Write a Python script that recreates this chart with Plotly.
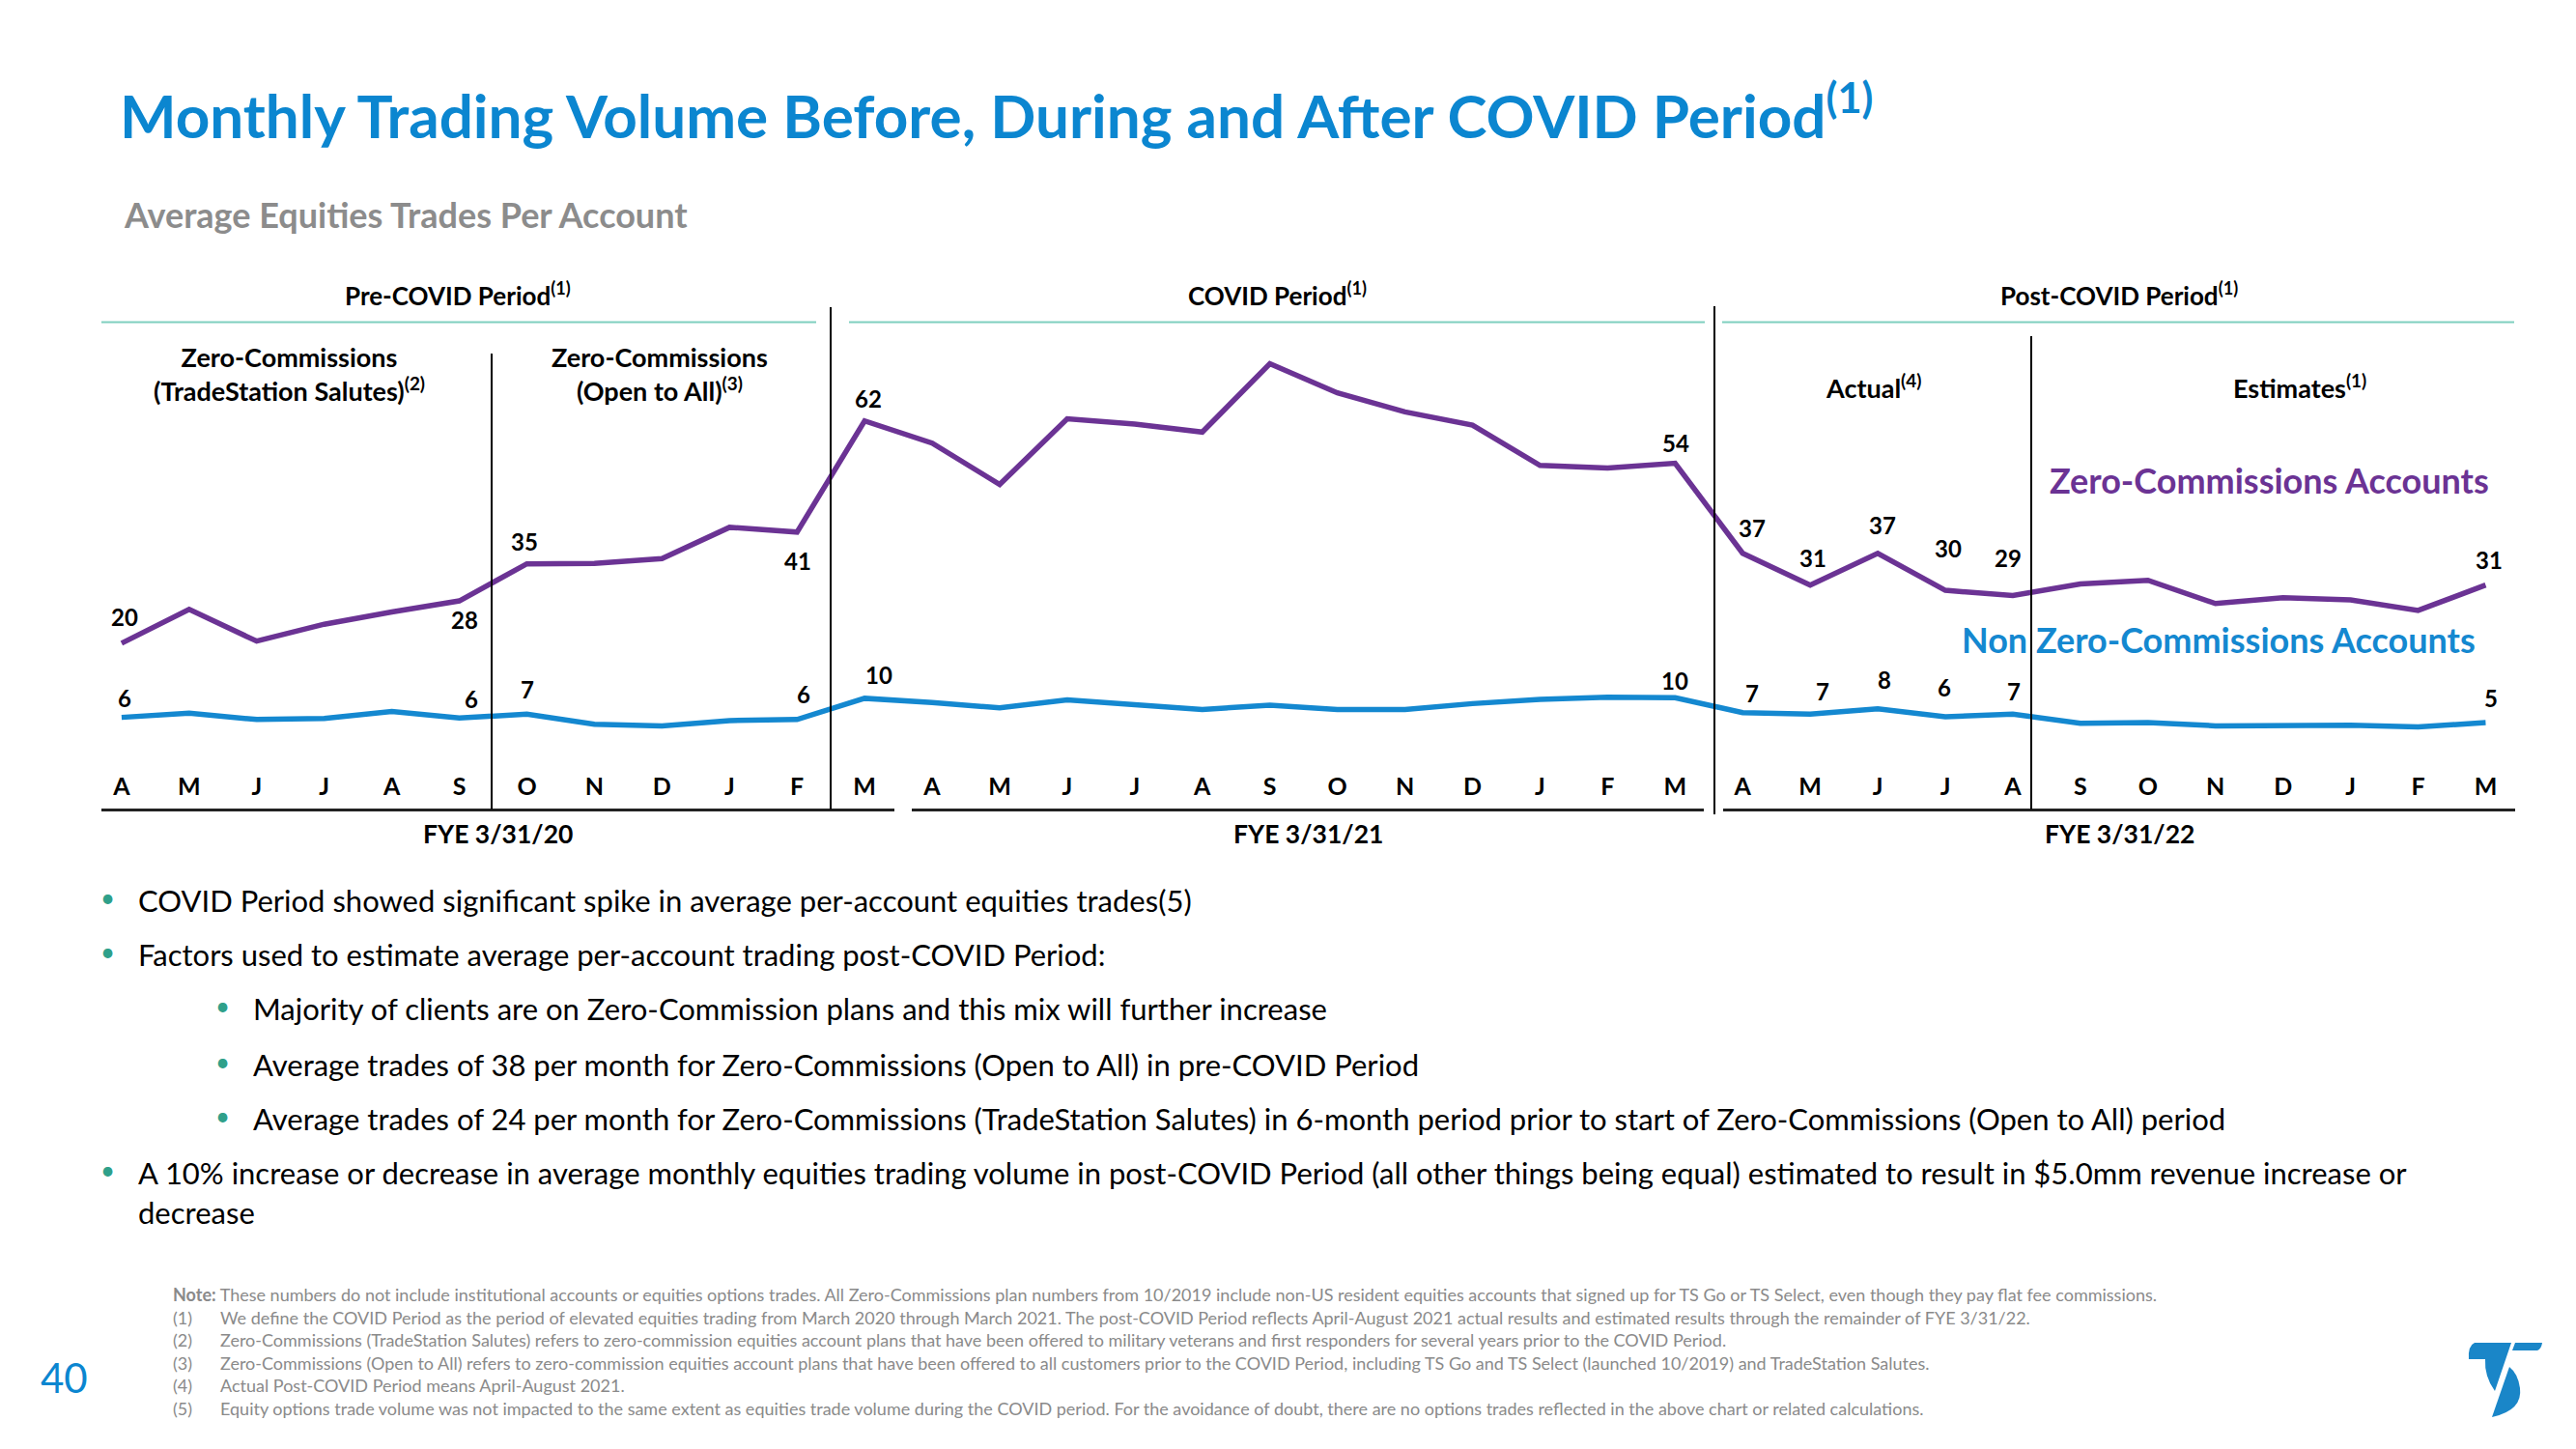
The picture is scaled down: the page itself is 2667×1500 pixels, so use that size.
import plotly.graph_objects as go

W, H = 2667, 1500
FONT = "Lato"

# ---------------- data ----------------
MONTHS = ["A", "M", "J", "J", "A", "S", "O", "N", "D", "J", "F", "M"] * 3
ZERO_COMM = [20, 26.4, 20.4, 23.6, 25.9, 28, 35, 35.1, 36.0, 41.9, 41,
             62, 57.8, 50.0, 62.4, 61.4, 59.9, 72.8, 67.3, 63.7, 61.2, 53.6, 53.1, 54,
             37, 31, 37, 30, 29, 31.2, 31.9, 27.5, 28.6, 28.2, 26.2, 31]
NON_ZERO = [6.0, 6.8, 5.6, 5.8, 7.1, 5.9, 6.6, 4.7, 4.4, 5.4, 5.6,
            9.6, 8.8, 7.8, 9.3, 8.4, 7.5, 8.3, 7.5, 7.5, 8.6, 9.4, 9.8, 9.7,
            6.9, 6.6, 7.6, 6.1, 6.6, 4.9, 5.0, 4.4, 4.5, 4.5, 4.2, 5.0]
LABELED_IDX = [0, 5, 6, 10, 11, 23, 24, 25, 26, 27, 28, 35]
FISCAL_YEARS = ["FYE 3/31/20", "FYE 3/31/21", "FYE 3/31/22"]
SERIES_NAMES = ["Zero-Commissions Accounts", "Non Zero-Commissions Accounts"]

PURPLE = "#6B3394"
BLUE = "#1488D0"
TITLE_BLUE = "#0B86D0"
TEAL = "#7FCFBF"
BULLET_TEAL = "#2FA08A"
GRAY = "#8C8C8C"
NOTE_GRAY = "#8A8A8A"

# label offsets (pixels) relative to points: dx, dy (dy positive = down)
ZERO_OFF = {0: (3, -27), 5: (5, 19), 6: (-2, -23), 10: (1, 30), 11: (4, -23), 23: (1, -21),
            24: (10, -26), 25: (3, -28), 26: (5, -29), 27: (3, -44), 28: (-5, -39), 35: (4, -26)}
NON_OFF = {0: (3, -20), 5: (12, -20), 6: (1, -26), 10: (7, -26), 11: (15, -24), 23: (0, -18),
           24: (10, -20), 25: (13, -24), 26: (7, -30), 27: (-1, -31), 28: (1, -24), 35: (6, -26)}


def px(x):
    return x / W


def py(y):
    return 1 - y / H


# axis geometry
X0, DX = 125.9, 69.93          # pixel of month 0, pixels per month
Y0, DY = 775.5, 5.48           # pixel of value 0, pixels per unit
XR = [-1, 36]
YR = [-4, 80]
xdom = [px(X0 + XR[0] * DX), px(X0 + XR[1] * DX)]
ydom = [py(Y0 - YR[0] * DY), py(Y0 - YR[1] * DY)]

fig = go.Figure()
idx = list(range(len(MONTHS)))
fig.add_trace(go.Scatter(x=idx, y=ZERO_COMM, mode="lines",
                         line=dict(color=PURPLE, width=5.5), hoverinfo="skip"))
fig.add_trace(go.Scatter(x=idx, y=NON_ZERO, mode="lines",
                         line=dict(color=BLUE, width=5.5), hoverinfo="skip"))

ann = []


def text(x, y, t, size, color="black", bold=False, xa="center", ya="middle"):
    if bold:
        t = "<b>" + t + "</b>"
    ann.append(dict(x=px(x), y=py(y), xref="paper", yref="paper", text=t, showarrow=False,
                    xanchor=xa, yanchor=ya, font=dict(family=FONT, size=size, color=color)))


# data labels
for i in LABELED_IDX:
    for series, offs in ((ZERO_COMM, ZERO_OFF), (NON_ZERO, NON_OFF)):
        dx, dy = offs[i]
        ann.append(dict(x=i, y=series[i], xref="x", yref="y", text="<b>%d</b>" % round(series[i]),
                        showarrow=False, xshift=dx, yshift=-dy,
                        font=dict(family=FONT, size=24, color="black")))

# title / subtitle
text(122, 115, "Monthly Trading Volume Before, During and After COVID Period<sup>(1)</sup>", 62,
     TITLE_BLUE, True, "left")
text(126, 222, "Average Equities Trades Per Account", 36, GRAY, True, "left")

# period headers
text(474, 304, "Pre-COVID Period<sup>(1)</sup>", 26, bold=True)
text(1322, 304, "COVID Period<sup>(1)</sup>", 26, bold=True)
text(2194, 304, "Post-COVID Period<sup>(1)</sup>", 26, bold=True)
text(299, 387, "Zero-Commissions<br>(TradeStation Salutes)<sup>(2)</sup>", 27, bold=True)
text(683, 387, "Zero-Commissions<br>(Open to All)<sup>(3)</sup>", 27, bold=True)
text(1939, 400, "Actual<sup>(4)</sup>", 27, bold=True)
text(2381, 400, "Estimates<sup>(1)</sup>", 27, bold=True)

# series names
text(2579, 497, SERIES_NAMES[0], 36, PURPLE, True, "right")
text(2565, 662, SERIES_NAMES[1], 36, BLUE, True, "right")

# fiscal years
for xc, fy in zip([515, 1354, 2194], FISCAL_YEARS):
    text(xc, 863, fy, 26.5, bold=True)

# bullets
bullets = [
    (102, 141, 932, "COVID Period showed significant spike in average per-account equities trades(5)"),
    (102, 141, 988, "Factors used to estimate average per-account trading post-COVID Period:"),
    (221, 260, 1044, "Majority of clients are on Zero-Commission plans and this mix will further increase"),
    (221, 260, 1102, "Average trades of 38 per month for Zero-Commissions (Open to All) in pre-COVID Period"),
    (221, 260, 1158, "Average trades of 24 per month for Zero-Commissions (TradeStation Salutes) in 6-month period prior to start of Zero-Commissions (Open to All) period"),
    (102, 141, 1214, "A 10% increase or decrease in average monthly equities trading volume in post-COVID Period (all other things being equal) estimated to result in $5.0mm revenue increase or"),
]
for bx, tx, y, t in bullets:
    text(bx, y - 3, "•", 26, BULLET_TEAL, False, "left")
    text(tx, y, t, 31, "black", False, "left")
text(141, 1255, "decrease", 31, "black", False, "left")

# footnotes
notes = [
    ("<b>Note:</b> These numbers do not include institutional accounts or equities options trades. All Zero-Commissions plan numbers from 10/2019 include non-US resident equities accounts that signed up for TS Go or TS Select, even though they pay flat fee commissions.", None),
    ("We define the COVID Period as the period of elevated equities trading from March 2020 through March 2021. The post-COVID Period reflects April-August 2021 actual results and estimated results through the remainder of FYE 3/31/22.", "(1)"),
    ("Zero-Commissions (TradeStation Salutes) refers to zero-commission equities account plans that have been offered to military veterans and first responders for several years prior to the COVID Period.", "(2)"),
    ("Zero-Commissions (Open to All) refers to zero-commission equities account plans that have been offered to all customers prior to the COVID Period, including TS Go and TS Select (launched 10/2019) and TradeStation Salutes.", "(3)"),
    ("Actual Post-COVID Period means April-August 2021.", "(4)"),
    ("Equity options trade volume was not impacted to the same extent as equities trade volume during the COVID period. For the avoidance of doubt, there are no options trades reflected in the above chart or related calculations.", "(5)"),
]
for k, (t, num) in enumerate(notes):
    y = [1340, 1364, 1387, 1411, 1434, 1458][k]
    if num is None:
        text(177, y, t, 18, NOTE_GRAY, False, "left")
    else:
        text(177, y, num, 18, NOTE_GRAY, False, "left")
        text(226, y, t, 18, NOTE_GRAY, False, "left")

# page number
text(66, 1426, "40", 42, TITLE_BLUE, False)

# ---------------- shapes ----------------
shapes = []


def hline(x0, x1, y, color, w):
    shapes.append(dict(type="line", xref="paper", yref="paper", x0=px(x0), x1=px(x1),
                       y0=py(y), y1=py(y), line=dict(color=color, width=w)))


def vline(x, y0, y1, color="black", w=2):
    shapes.append(dict(type="line", xref="paper", yref="paper", x0=px(x), x1=px(x),
                       y0=py(y0), y1=py(y1), line=dict(color=color, width=w)))


for a, b in [(105, 845), (879, 1765), (1783, 2603)]:
    hline(a, b, 333.5, TEAL, 2)
for a, b in [(105, 926), (944, 1764), (1784, 2604)]:
    hline(a, b, 838.5, "#222222", 3)
vline(509, 366, 838)
vline(860, 318, 838)
vline(1775, 317, 843)
vline(2103, 348, 838)


def path(cmds):
    out = []
    for c, pts in cmds:
        s = c
        s += " ".join("%.5f,%.5f" % (px(x), py(y)) for x, y in pts)
        out.append(s)
    return " ".join(out) + " Z"


LOGO = "#1A86C8"
logo_parts = [
    [("M", [(2562, 1390)]), ("L", [(2600, 1390)]), ("L", [(2583, 1440)]),
     ("Q", [(2572, 1425), (2573, 1407)]), ("L", [(2556, 1407)]), ("Q", [(2555, 1393), (2562, 1390)])],
    [("M", [(2604, 1390)]), ("L", [(2632, 1390)]), ("Q", [(2631, 1397), (2627, 1398)]),
     ("L", [(2601, 1398)])],
    [("M", [(2598, 1415)]), ("L", [(2580, 1467)]), ("Q", [(2612, 1460), (2609, 1437)]),
     ("Q", [(2607, 1422), (2598, 1415)])],
]
for part in logo_parts:
    shapes.append(dict(type="path", xref="paper", yref="paper", path=path(part),
                       fillcolor=LOGO, line=dict(width=0)))

fig.update_layout(
    width=W, height=H, margin=dict(l=0, r=0, t=0, b=0),
    paper_bgcolor="white", plot_bgcolor="white", showlegend=False,
    font=dict(family=FONT),
    xaxis=dict(domain=xdom, range=XR, showgrid=False, zeroline=False, showline=False,
               tickmode="array", tickvals=idx, ticktext=["<b>%s</b>" % m for m in MONTHS],
               tickfont=dict(family=FONT, size=25, color="black"), ticks="", fixedrange=True),
    yaxis=dict(domain=ydom, range=YR, visible=False, fixedrange=True),
    annotations=ann, shapes=shapes,
)

fig.write_html("out.html", config={"displayModeBar": False},
               post_script="document.body.style.margin='0';document.body.style.overflow='hidden';")
